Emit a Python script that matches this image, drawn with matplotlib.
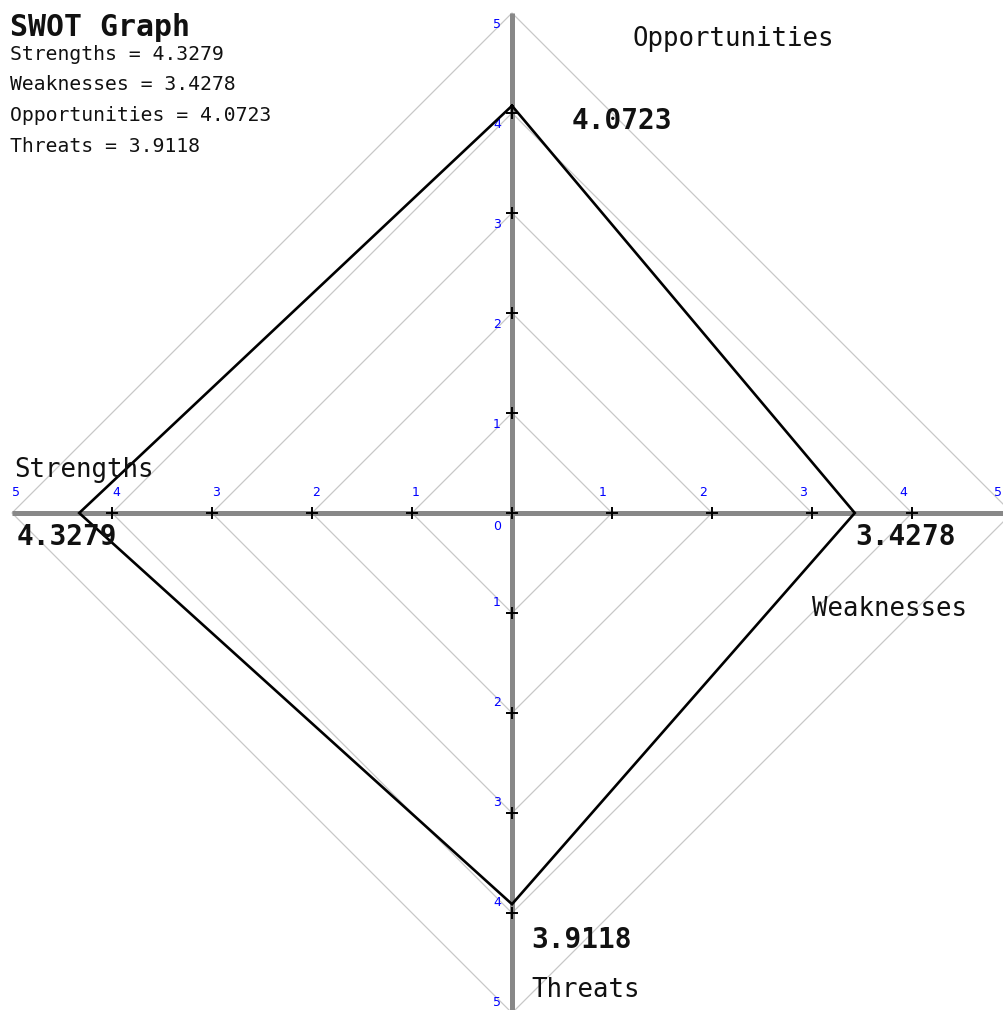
import matplotlib
matplotlib.use("Agg")
import matplotlib.pyplot as plt

# ---- data ----
categories = ["Strengths", "Weaknesses", "Opportunities", "Threats"]
values = [4.3279, 3.4278, 4.0723, 3.9118]
grid_levels = [1, 2, 3, 4, 5]
tick_values = [1, 2, 3, 4]
tick_labels = ["1", "2", "3", "4", "5"]
title = "SWOT Graph"

S, W, O, T = values

fig = plt.figure(figsize=(10.04, 10.10), dpi=100)
ax = fig.add_axes([0, 0, 1, 1])
ax.set_xlim(-5.12, 4.92)
ax.set_ylim(-4.97, 5.13)
ax.axis("off")

mono = "DejaVu Sans Mono"

# diamond grid
for k in grid_levels:
    ax.plot([k, 0, -k, 0, k], [0, k, 0, -k, 0], color="#c8c8c8", lw=0.9, zorder=1)

# axes lines
ax.plot([-5, 5.5], [0, 0], color="#888888", lw=3.6, solid_capstyle="butt", zorder=2)
ax.plot([0, 0], [5, -5.5], color="#888888", lw=3.6, solid_capstyle="butt", zorder=2)

# tick crosses
tx = [0] + [v for v in tick_values] + [-v for v in tick_values] + [0] * (2 * len(tick_values))
ty = [0] + [0] * (2 * len(tick_values)) + [v for v in tick_values] + [-v for v in tick_values]
ax.plot(tx, ty, linestyle="none", marker="+", color="black", markersize=9, mew=1.4, zorder=4)

# tick labels (blue)
tk = dict(color="#0000ff", fontsize=9, family="DejaVu Sans", ha="center", va="center", zorder=5)
for i, lab in enumerate(tick_labels):
    k = i + 1
    ax.text(-k + 0.04, 0.21, lab, **tk)
    ax.text(min(k - 0.09, 4.86), 0.21, lab, **tk)
    ax.text(-0.15, k - 0.11, lab, **tk)
    ax.text(-0.15, -k + 0.11, lab, **tk)
ax.text(-0.15, -0.14, "0", **tk)

# polygon
px = [0, W, 0, -S, 0]
py = [O, 0, -T, 0, O]
ax.plot(px, py, color="black", lw=1.9, zorder=6, solid_joinstyle="miter")

# value labels
vk = dict(fontsize=20, family=mono, fontweight="bold", ha="left", va="center", zorder=7, color="#111111")
ax.text(0.60, O - 0.15, f"{O:.4f}", **vk)
ax.text(W, -0.24, f"{W:.4f}", **vk)
ax.text(-S - 0.63, -0.24, f"{S:.4f}", **vk)
ax.text(0.19, -T - 0.36, f"{T:.4f}", **vk)

# category labels
ck = dict(fontsize=18.5, family=mono, ha="left", va="center", zorder=7, color="#111111")
ax.text(-4.98, 0.43, categories[0], **ck)
ax.text(3.00, -0.96, categories[1], **ck)
ax.text(1.20, 4.74, categories[2], **ck)
ax.text(0.19, -4.77, categories[3], **ck)

# header
fig.text(10 / 1004, 1 - 28 / 1010, title, family=mono, fontweight="bold", fontsize=21.5,
         ha="left", va="center", color="#111111")
for i, (c, v) in enumerate(zip(categories, values)):
    y = 54 + i * 30.7
    fig.text(10 / 1004, 1 - y / 1010, f"{c} = {v:.4f}", family=mono, fontsize=14.2,
             ha="left", va="center", color="#111111")

fig.savefig("out.png", dpi=100, facecolor="white")
